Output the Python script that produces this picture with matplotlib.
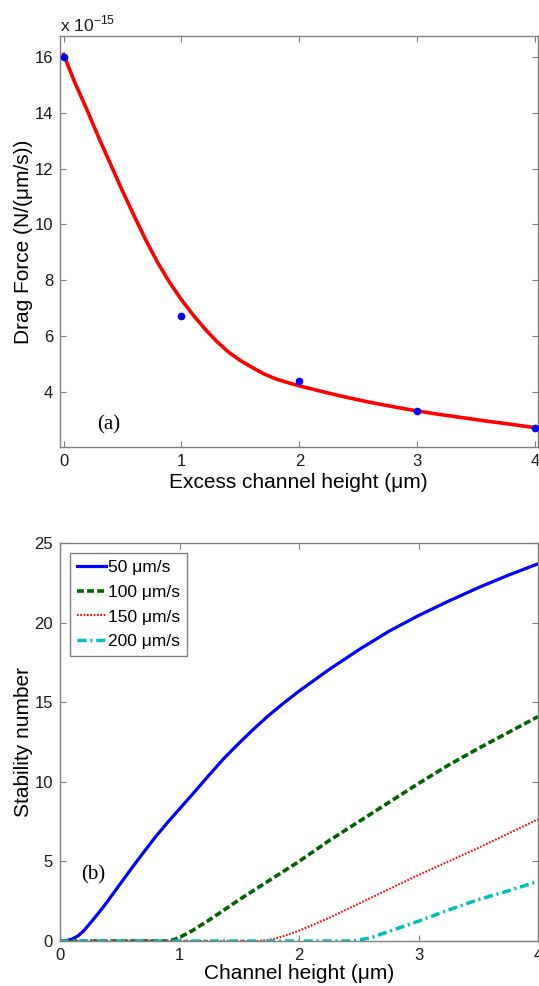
import numpy as np
import matplotlib
matplotlib.use('Agg')
import matplotlib.pyplot as plt

plt.rcParams['font.family'] = ['Liberation Sans', 'DejaVu Sans']
plt.rcParams['mathtext.fontset'] = 'custom'
plt.rcParams['mathtext.rm'] = 'Liberation Sans'

# ---- panel (a): drag force vs excess channel height (units of 1e-15 N/(um/s))
pts_x = [0, 1, 2, 3, 4]
pts_y = [16.0, 6.72, 4.39, 3.31, 2.71]

fit_x = [0, 0.1, 0.2, 0.3, 0.4, 0.5, 0.6, 0.7, 0.8, 0.9, 1.0, 1.1, 1.2,
         1.3, 1.4, 1.5, 1.6, 1.7, 1.8, 1.9, 2.0, 2.2, 2.4, 2.6, 2.8, 3.0,
         3.2, 3.4, 3.6, 3.8, 4.0]
fit_y = [16.1, 15.05, 14.1, 13.1, 12.15, 11.2, 10.3, 9.42, 8.62, 7.92, 7.3,
         6.75, 6.25, 5.8, 5.42, 5.12, 4.87, 4.64, 4.46, 4.33, 4.21, 4.0,
         3.8, 3.62, 3.46, 3.31, 3.18, 3.06, 2.94, 2.83, 2.71]

# ---- panel (b): stability number vs channel height
x50 = [0, 0.05, 0.1, 0.15, 0.2, 0.25, 0.3, 0.35, 0.4, 0.5, 0.6, 0.7, 0.8,
       0.9, 1.0, 1.1, 1.25, 1.375, 1.5, 1.625, 1.75, 1.875, 2.0, 2.25, 2.5,
       2.75, 3.0, 3.25, 3.5, 3.75, 4.0]
y50 = [0, 0.02, 0.12, 0.32, 0.65, 1.1, 1.55, 2.02, 2.52, 3.55, 4.58, 5.58,
       6.55, 7.45, 8.3, 9.15, 10.45, 11.5, 12.45, 13.35, 14.2, 14.97, 15.7,
       17.05, 18.3, 19.45, 20.45, 21.35, 22.2, 22.98, 23.7]

x100 = [0, 0.9, 0.95, 1.0, 1.1, 1.25, 1.5, 1.75, 2.0, 2.25, 2.5, 2.75, 3.0,
        3.25, 3.5, 3.75, 4.0]
y100 = [0, 0, 0.08, 0.23, 0.62, 1.33, 2.6, 3.8, 5.0, 6.3, 7.5, 8.7, 9.9,
        11.05, 12.1, 13.1, 14.1]

x150 = [0, 1.67, 1.8, 1.9, 2.0, 2.25, 2.5, 2.75, 3.0, 3.25, 3.5, 3.75, 4.0]
y150 = [0, 0, 0.15, 0.38, 0.65, 1.45, 2.35, 3.25, 4.15, 5.0, 5.85, 6.75, 7.65]

x200 = [0, 2.45, 2.6, 2.75, 3.0, 3.25, 3.5, 3.75, 4.0]
y200 = [0, 0, 0.2, 0.6, 1.25, 1.95, 2.6, 3.15, 3.75]

labels = ['50 \u03bcm/s', '100 \u03bcm/s', '150 \u03bcm/s', '200 \u03bcm/s']

fig = plt.figure(figsize=(5.39, 9.86), dpi=100)
ax1 = fig.add_axes([0.1113, 0.5467, 0.886, 0.4168])
ax2 = fig.add_axes([0.1113, 0.0456, 0.887, 0.4036])

def style(ax):
    for s in ax.spines.values():
        s.set_color('#808080')
        s.set_linewidth(1.0)
    ax.tick_params(direction='in', top=True, right=True, length=4,
                   width=0.8, color='#808080', labelsize=12, pad=5,
                   labelcolor='#1a1a1a')

ax1.plot(fit_x, fit_y, color='red', lw=2.6, zorder=2)
ax1.plot(pts_x, pts_y, 'o', color='blue', ms=4.5, mec='blue', zorder=3,
         clip_on=False)
ax1.set_xlim(-0.03, 4.02)
ax1.set_ylim(2.02, 16.76)
ax1.set_xticks([0, 1, 2, 3, 4])
ax1.set_yticks([4, 6, 8, 10, 12, 14, 16])
style(ax1)
ax1.set_xlabel('Excess channel height (\u03bcm)', fontsize=15, labelpad=3)
ax1.set_ylabel('Drag Force (N/(\u03bcm/s))', fontsize=15, labelpad=1)
ax1.text(0.0, 1.005, r'x 10$^{-15}$', transform=ax1.transAxes, fontsize=12.5,
         ha='left', va='bottom', color='#1a1a1a')
ax1.text(0.38, 2.8, '(a)', fontsize=15, family='Liberation Serif',
         ha='center', va='center')

ax2.plot(x50, y50, color='blue', lw=2.3, label=labels[0])
ax2.plot(x100, y100, color='#006400', lw=2.6, ls=(0, (1.9, 0.9)),
         label=labels[1])
ax2.plot(x150, y150, color='red', lw=1.5, ls=(0, (0.8, 0.8)),
         label=labels[2])
ax2.plot(x200, y200, color='#00bfbf', lw=2.5, ls=(0, (2.6, 1.1, 0.6, 1.1)),
         label=labels[3])
ax2.set_xlim(0, 4)
ax2.set_ylim(0, 25)
ax2.set_xticks([0, 1, 2, 3, 4])
ax2.set_yticks([0, 5, 10, 15, 20, 25])
style(ax2)
ax2.set_xlabel('Channel height (\u03bcm)', fontsize=15, labelpad=1)
ax2.set_ylabel('Stability number', fontsize=15, labelpad=1)
ax2.text(0.28, 4.15, '(b)', fontsize=15, family='Liberation Serif',
         ha='center', va='center')
leg = ax2.legend(loc='upper left', bbox_to_anchor=(0.021, 0.975),
                 borderaxespad=0, fontsize=12.5, fancybox=False,
                 framealpha=1, edgecolor='#808080', handlelength=1.65,
                 handletextpad=0.15, labelspacing=0.55, borderpad=0.4)
leg.get_frame().set_linewidth(1.0)

fig.savefig('out.png', dpi=100)
